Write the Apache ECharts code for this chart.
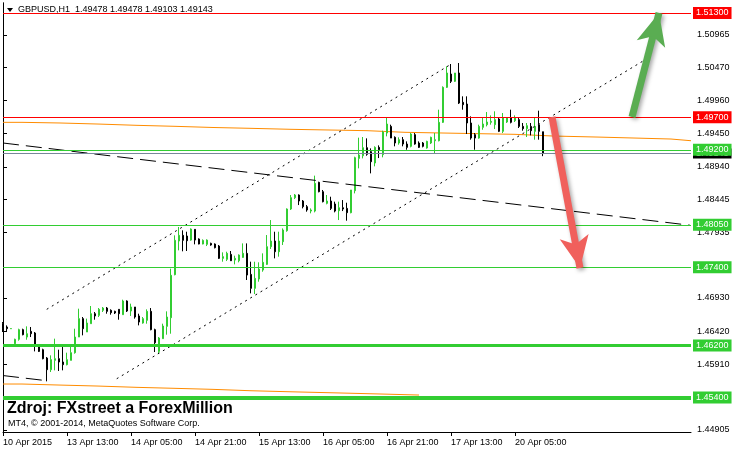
<!DOCTYPE html>
<html>
<head>
<meta charset="utf-8">
<script src="https://cdn.jsdelivr.net/npm/echarts@6/dist/echarts.min.js"></script>
<style>
html,body{margin:0;padding:0;background:#fff;}
#c{width:734px;height:451px;}
</style>
</head>
<body>
<div id="c"></div>
<script>
// ---- DATA (GBPUSD H1, bars indexed from 10 Apr 2015 21:00) ----
const open = [1.46533,1.46482,1.46456,1.46226,1.46293,1.46441,1.46328,1.46415,1.4639,1.462,1.46134,1.46006,1.45827,1.4597,1.45996,1.45945,1.45904,1.4597,1.46088,1.46328,1.4661,1.46405,1.46533,1.46686,1.46661,1.46738,1.46773,1.46738,1.46722,1.46753,1.46671,1.46881,1.46727,1.46789,1.46651,1.46543,1.46584,1.46722,1.46441,1.46108,1.46303,1.46492,1.46625,1.47285,1.47801,1.47888,1.47878,1.47816,1.4798,1.47832,1.47755,1.4775,1.47765,1.47755,1.47724,1.47535,1.4752,1.47596,1.47509,1.47499,1.4755,1.47612,1.47289,1.47075,1.47218,1.47356,1.47443,1.47714,1.47801,1.47637,1.47791,1.4796,1.48292,1.48466,1.48507,1.48415,1.48328,1.48261,1.48261,1.48701,1.48558,1.48379,1.48415,1.48369,1.48266,1.48312,1.48302,1.48236,1.48573,1.49069,1.4911,1.49233,1.49172,1.48998,1.49238,1.49126,1.49458,1.4956,1.49392,1.49305,1.49356,1.49289,1.49254,1.49433,1.49305,1.49305,1.49228,1.49305,1.4934,1.4934,1.49622,1.50159,1.50363,1.50251,1.50379,1.49929,1.49903,1.49612,1.49433,1.49381,1.49545,1.49586,1.49622,1.49586,1.49673,1.49484,1.49627,1.49688,1.49647,1.49663,1.4956,1.49525,1.4956,1.49484,1.49586,1.49478];
const close = [1.46466,1.46456,1.46458,1.46293,1.46441,1.46364,1.46379,1.46379,1.4619,1.46108,1.45996,1.45827,1.45981,1.45996,1.45945,1.45904,1.45981,1.46088,1.46328,1.4661,1.46456,1.46543,1.46686,1.46651,1.46753,1.46773,1.46722,1.46702,1.46697,1.46686,1.46881,1.46727,1.46789,1.46635,1.46558,1.4661,1.46722,1.46441,1.46241,1.46313,1.46497,1.46635,1.47275,1.47812,1.47888,1.47812,1.47806,1.47985,1.47816,1.47755,1.47811,1.47816,1.4774,1.47699,1.47535,1.47561,1.47612,1.47499,1.47535,1.47586,1.47612,1.47279,1.47075,1.47228,1.47371,1.47474,1.47714,1.47801,1.47637,1.47801,1.4797,1.48292,1.48466,1.48507,1.48415,1.48328,1.48277,1.48277,1.48686,1.48558,1.48405,1.48415,1.48302,1.48261,1.48312,1.48292,1.48236,1.48584,1.4908,1.49121,1.49233,1.49131,1.49018,1.49238,1.49202,1.49473,1.49596,1.49381,1.49305,1.49356,1.49289,1.49238,1.49443,1.49289,1.49238,1.49254,1.4933,1.49392,1.49356,1.49622,1.50159,1.50379,1.50251,1.50379,1.49918,1.49893,1.49612,1.49381,1.49381,1.4956,1.49596,1.49627,1.49637,1.49663,1.49484,1.49688,1.49688,1.49622,1.49688,1.4956,1.49525,1.49571,1.49494,1.4956,1.49484,1.49143];
const low = [1.46405,1.46405,1.46454,1.46216,1.46272,1.46354,1.46287,1.46328,1.46108,1.46098,1.45986,1.45648,1.45791,1.45817,1.45807,1.45817,1.45893,1.4597,1.46073,1.46328,1.46354,1.46405,1.46533,1.46594,1.46635,1.46712,1.46686,1.46671,1.46681,1.46594,1.46671,1.46712,1.46651,1.4661,1.46507,1.46533,1.46533,1.46431,1.46098,1.46073,1.46303,1.46364,1.46379,1.47275,1.47658,1.47643,1.47648,1.47806,1.4775,1.4775,1.4775,1.47724,1.47729,1.47688,1.47525,1.47484,1.47494,1.47494,1.47443,1.47474,1.47545,1.47203,1.46998,1.46988,1.47177,1.4733,1.47433,1.47678,1.47535,1.47561,1.4774,1.47944,1.48277,1.48445,1.48353,1.48302,1.48251,1.48226,1.48241,1.48548,1.48394,1.48364,1.48277,1.48241,1.48123,1.48261,1.48113,1.48226,1.48532,1.48916,1.49069,1.4911,1.48839,1.48947,1.49074,1.49085,1.49407,1.49381,1.49254,1.49279,1.49254,1.49202,1.49238,1.49279,1.49228,1.49238,1.49218,1.49289,1.49151,1.4933,1.49612,1.50149,1.50225,1.50241,1.49903,1.49816,1.49443,1.49356,1.49202,1.49371,1.49509,1.4956,1.49586,1.49519,1.49473,1.49458,1.49612,1.49606,1.49627,1.49535,1.49494,1.49397,1.49422,1.49356,1.49356,1.49103];
const high = [1.46558,1.46507,1.46461,1.46303,1.46456,1.46456,1.46492,1.46482,1.46405,1.4621,1.46149,1.46021,1.46047,1.46303,1.46134,1.462,1.46088,1.462,1.46456,1.46763,1.46635,1.4661,1.46804,1.46712,1.46773,1.46789,1.46789,1.46753,1.46732,1.46753,1.46901,1.46891,1.4684,1.46789,1.46686,1.46635,1.46753,1.46773,1.46456,1.46328,1.46533,1.46722,1.47377,1.47888,1.48016,1.47965,1.47944,1.47995,1.4798,1.47842,1.47826,1.47827,1.47776,1.47765,1.4774,1.47627,1.47637,1.47648,1.47576,1.47596,1.47765,1.47765,1.47484,1.47484,1.47474,1.47612,1.47893,1.48123,1.47944,1.47944,1.47995,1.48302,1.48507,1.48522,1.48517,1.4843,1.48353,1.48302,1.48804,1.48711,1.48584,1.48507,1.48481,1.48405,1.48405,1.4843,1.48389,1.48584,1.49095,1.49387,1.49397,1.49376,1.49223,1.49254,1.49269,1.49494,1.49699,1.49586,1.49407,1.49392,1.49397,1.4933,1.49458,1.49458,1.4933,1.4932,1.4934,1.49402,1.49458,1.49816,1.50174,1.50481,1.50517,1.50379,1.50532,1.50021,1.50021,1.49714,1.49458,1.49586,1.49699,1.4978,1.49729,1.49791,1.49688,1.49765,1.49699,1.49816,1.49729,1.49688,1.49612,1.49612,1.49612,1.49688,1.49801,1.49478];

const xTickValues = [0,16,32,48,64,80,96,112,128];
const xTickLabels = ['10 Apr 2015','13 Apr 13:00','14 Apr 05:00','14 Apr 21:00','15 Apr 13:00','16 Apr 05:00','16 Apr 21:00','17 Apr 13:00','20 Apr 05:00'];
const yTickValues = [1.50965,1.50470,1.49960,1.49450,1.48940,1.48445,1.47935,1.46930,1.46420,1.45910,1.44905];

// horizontal levels
const redLevels = [1.51300, 1.49700];
const greenLevels = [1.49200, 1.48050, 1.47400, 1.46200, 1.45400];
const greenWidths = [1, 1, 1, 3, 4];
const bidPrice = 1.49143;

// orange stepped lines: breakpoints (bar index) and levels
const orangeUpperX = [0,4.75,14.25,23.75,33.5,43,52.5,62,72,82,91,100.5,110,128,137.5,148.75,158,167,172];
const orangeUpperY = [1.49622,1.49612,1.49596,1.49576,1.49561,1.49543,1.4953,1.49515,1.49504,1.49494,1.49469,1.49458,1.49438,1.49412,1.49396,1.49381,1.49366,1.4934,1.4934];
const orangeLowerX = [0,4.75,14.25,23.75,33.5,43,52.5,62,72,82,95,104];
const orangeLowerY = [1.45607,1.45591,1.45576,1.45556,1.45541,1.45525,1.45504,1.45488,1.45473,1.45453,1.45438,1.45438];

// trend lines [barIndex, price]
const blackTrend = [[0, 1.49305], [171.75, 1.48043]];
const blackTrendLow = [[0, 1.45737], [10.5, 1.45661]];
const channelUpper = [[10.93, 1.46753], [112.08, 1.50517]];
const channelLower = [[28.43, 1.45688], [161.25, 1.50609]];
const greenArrow = [[157.25, 1.49704], [164, 1.51300]];
const redArrow = [[137.25, 1.49704], [144.25, 1.47387]];

const X_MIN = 0, X_MAX = 172;
const Y_MIN = 1.44871, Y_MAX = 1.51453;
const FONT = "'Liberation Sans', Arial, sans-serif";

const candleData = open.map((o, i) => [i, o, close[i], low[i], high[i]]);
const zip = (xs, ys) => xs.map((x, i) => [x, ys[i]]);

function levelLine(v, color, width, bg, lh) {
  return [
    { coord: [X_MIN, v], lineStyle: { color: color, width: width, type: 'solid' },
      label: {
        show: true, position: 'end', distance: 2,
        formatter: v.toFixed(5), color: '#fff', backgroundColor: bg,
        fontFamily: FONT, fontSize: 9, lineHeight: lh || 11, padding: [1, 3, 0, 3]
      } },
    { coord: [X_MAX, v] }
  ];
}

const arrowStyle = (color) => ({
  color: color, width: 7, type: 'solid', opacity: 1,
  shadowBlur: 4, shadowColor: 'rgba(0,0,0,0.35)', shadowOffsetX: 2, shadowOffsetY: 2
});

const chart = echarts.init(document.getElementById('c'), null, { renderer: 'canvas' });
chart.setOption({
  animation: false,
  backgroundColor: '#ffffff',
  grid: { left: 3, right: 43, top: 3, bottom: 19, containLabel: false },
  xAxis: {
    type: 'value', min: X_MIN, max: X_MAX,
    axisLine: { show: true, lineStyle: { color: '#000', width: 1 } },
    axisTick: { show: true, length: 4, lineStyle: { color: '#000' }, customValues: xTickValues },
    axisLabel: {
      customValues: xTickValues, align: 'left', margin: 6,
      color: '#000', fontFamily: FONT, fontSize: 9,
      formatter: v => xTickLabels[Math.round(v / 16)]
    },
    splitLine: { show: false }
  },
  yAxis: [{
    type: 'value', position: 'right', min: Y_MIN, max: Y_MAX,
    axisLine: { show: true, lineStyle: { color: '#000', width: 1 } },
    axisTick: { show: true, length: 4, lineStyle: { color: '#000' }, customValues: yTickValues },
    axisLabel: {
      customValues: yTickValues, margin: 6, color: '#000', fontFamily: FONT, fontSize: 9,
      formatter: v => v.toFixed(5)
    },
    splitLine: { show: false }
  }, {
    type: 'value', position: 'left', min: Y_MIN, max: Y_MAX,
    axisLine: { show: true, lineStyle: { color: '#000', width: 1 } },
    axisTick: { show: false }, axisLabel: { show: false }, splitLine: { show: false }
  }],
  series: [
    {
      type: 'line', name: 'orangeUpper', data: zip(orangeUpperX, orangeUpperY), step: 'end',
      symbol: 'none', lineStyle: { color: '#ff8c00', width: 1 }, z: 1
    },
    {
      type: 'line', name: 'orangeLower', data: zip(orangeLowerX, orangeLowerY), step: 'end',
      symbol: 'none', lineStyle: { color: '#ff8c00', width: 1 }, z: 1
    },
    {
      type: 'candlestick', name: 'GBPUSD', data: candleData,
      encode: { x: 0, y: [1, 2, 3, 4] },
      barWidth: 2, z: 3,
      itemStyle: {
        color: '#32cd32', color0: '#000000',
        borderColor: '#32cd32', borderColor0: '#000000', borderColorDoji: '#32cd32',
        borderWidth: 1
      },
      markLine: {
        silent: true, symbol: 'none', animation: false, z: 5,
        data: [
          levelLine(bidPrice, '#778899', 1, '#000000', 9),
          ...redLevels.map(v => levelLine(v, '#ff0000', 1, '#ff0000')),
          ...greenLevels.map((v, i) => levelLine(v, '#32cd32', greenWidths[i], '#32cd32'))
        ]
      }
    },
    {
      type: 'line', name: 'blackTrend', data: blackTrend, symbol: 'none', z: 4,
      lineStyle: { color: '#000', width: 1, type: [16, 7] }
    },
    {
      type: 'line', name: 'blackTrendLow', data: blackTrendLow, symbol: 'none', z: 4,
      lineStyle: { color: '#000', width: 1, type: [16, 7] }
    },
    {
      type: 'line', name: 'channelUpper', data: channelUpper, symbol: 'none', z: 4,
      lineStyle: { color: '#000', width: 1, type: [2, 4] }
    },
    {
      type: 'line', name: 'channelLower', data: channelLower, symbol: 'none', z: 4,
      lineStyle: { color: '#000', width: 1, type: [2, 4] },
      markLine: {
        silent: true, animation: false, label: { show: false }, z: 6,
        data: [
          [
            { coord: greenArrow[0], symbol: 'none', lineStyle: arrowStyle('#5aad52') },
            { coord: greenArrow[1], symbol: 'arrow', symbolSize: [22, 32] }
          ],
          [
            { coord: redArrow[0], symbol: 'none', lineStyle: arrowStyle('#f0605c') },
            { coord: redArrow[1], symbol: 'arrow', symbolSize: [22, 32] }
          ]
        ]
      }
    }
  ],
  graphic: [
    { type: 'polygon', shape: { points: [[7, 8], [13, 8], [10, 12]] }, style: { fill: '#000' }, z: 10 },
    { type: 'text', left: 18, top: 5, z: 10,
      style: { text: 'GBPUSD,H1  1.49478 1.49478 1.49103 1.49143', fill: '#000', font: "9px 'Liberation Sans', Arial" } },
    { type: 'text', left: 7, top: 401, z: 10,
      style: { text: 'Zdroj: FXstreet a ForexMillion', fill: '#000', font: "bold 16px 'Liberation Sans', Arial" } },
    { type: 'text', left: 8, top: 419, z: 10,
      style: { text: 'MT4, © 2001-2014, MetaQuotes Software Corp.', fill: '#000', font: "9px 'Liberation Sans', Arial" } }
  ]
});
</script>
</body>
</html>
